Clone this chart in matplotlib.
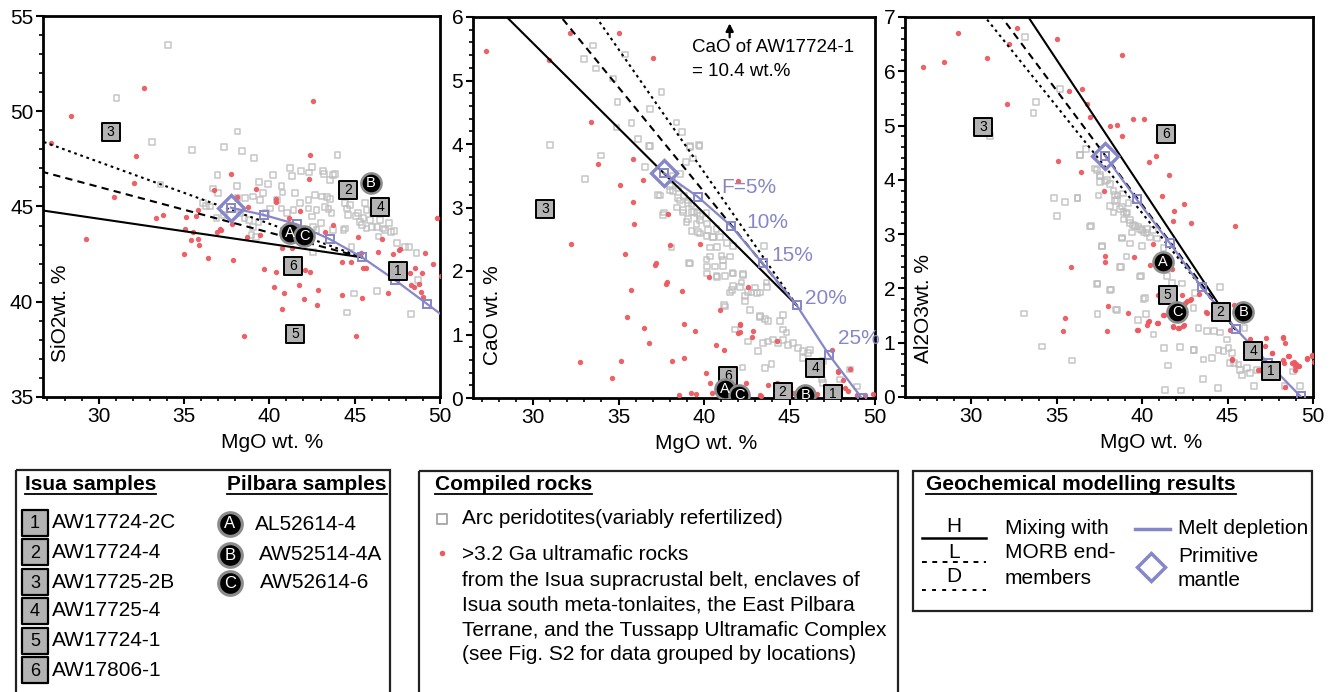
import matplotlib
matplotlib.use('Agg')
import matplotlib.pyplot as plt
from matplotlib.ticker import MultipleLocator
from matplotlib.patches import Rectangle

plt.rcParams['font.family'] = ['Liberation Sans', 'DejaVu Sans']

# ---------------------------------------------------------------- data
mgo_ticks = [30, 35, 40, 45, 50]

# melt depletion model, F = 0 (primitive mantle), 5, 10, 15, 20, 25, 30 %
melt_mgo_si = [37.75, 39.70, 41.60, 43.55, 45.44, 47.36, 49.25, 50.30]
melt_sio2 = [44.94, 44.55, 44.07, 43.28, 42.33, 41.14, 39.88, 39.18]
melt_mgo_ca = [37.68, 39.63, 41.58, 43.43, 45.42, 47.31, 49.22]
melt_cao = [3.54, 3.17, 2.71, 2.12, 1.46, 0.68, 0.00]
melt_mgo_al = [37.84, 39.69, 41.64, 43.49, 45.50, 47.39, 49.28]
melt_al2o3 = [4.44, 3.64, 2.83, 2.02, 1.25, 0.62, 0.01]
melt_labels = ['F=5%', '10%', '15%', '20%', '25%']
melt_label_mgo = [41.03, 42.50, 43.96, 45.90, 47.82]
melt_label_cao = [3.31, 2.76, 2.25, 1.57, 0.94]

# mixing of the 20 % residue with MORB end-members (H, L, D)
mixH_si_mgo = [45.44, 26.50]; mixH_sio2 = [42.33, 44.82]
mixL_si_mgo = [45.44, 26.50]; mixL_sio2 = [42.33, 46.87]
mixD_si_mgo = [45.44, 26.50]; mixD_sio2 = [42.33, 48.48]
mixH_ca_mgo = [45.42, 28.46]; mixH_cao = [1.46, 6.0]
mixL_ca_mgo = [45.42, 31.64]; mixL_cao = [1.46, 6.0]
mixD_ca_mgo = [45.42, 33.69]; mixD_cao = [1.46, 6.0]
mixH_al_mgo = [45.45, 33.35]; mixH_al2o3 = [1.25, 7.0]
mixL_al_mgo = [45.45, 31.79]; mixL_al2o3 = [1.25, 7.0]
mixD_al_mgo = [45.45, 30.82]; mixD_al2o3 = [1.25, 7.0]

# Isua samples
isua_labels = ['1', '2', '3', '4', '5', '6']
isua_names = ['AW17724-2C', 'AW17724-4', 'AW17725-2B', 'AW17725-4', 'AW17724-1', 'AW17806-1']
isua_mgo = [47.55, 44.60, 30.70, 46.50, 41.50, 41.40]
isua_sio2 = [41.63, 45.87, 48.89, 44.99, 38.29, 41.89]
isua_cao = [0.07, 0.09, 2.97, 0.48, 10.4, 0.34]
isua_al2o3 = [0.48, 1.57, 4.98, 0.85, 1.88, 4.84]

# Pilbara samples
pil_labels = ['A', 'B', 'C']
pil_names = ['AL52614-4', 'AW52514-4A', 'AW52614-6']
pil_mgo = [41.20, 45.93, 42.05]
pil_sio2 = [43.63, 46.22, 43.45]
pil_cao = [0.14, 0.05, 0.05]
pil_al2o3 = [2.49, 1.56, 1.56]

# Arc peridotites (MgO, SiO2)
arc_sio2_pts = [
    (34.08, 53.48), (31.05, 50.71), (33.14, 48.40), (38.13, 48.93), (35.45, 47.97), (37.34, 48.11),
    (38.42, 47.91), (39.12, 47.56), (44.00, 47.70), (33.63, 46.16), (36.97, 46.65), (38.09, 46.08),
    (39.38, 46.30), (39.94, 46.18), (40.23, 46.65), (40.72, 46.08), (41.21, 47.04), (41.31, 46.62),
    (41.86, 46.88), (42.34, 46.78), (42.52, 47.09), (43.13, 46.88), (43.20, 46.69), (43.71, 46.65),
    (43.55, 46.39), (41.50, 45.69), (40.78, 45.73), (40.43, 45.34), (39.65, 45.69), (39.45, 45.34),
    (39.06, 45.52), (38.57, 45.43), (38.13, 45.43), (37.01, 45.69), (36.72, 45.95), (36.13, 45.20),
    (36.29, 45.03), (36.52, 45.00), (36.91, 44.38), (37.34, 44.55), (38.28, 44.64), (38.54, 44.38),
    (38.81, 44.29), (39.06, 43.94), (39.36, 44.20), (38.96, 43.50), (39.22, 43.38), (39.80, 44.64),
    (40.04, 44.90), (40.72, 44.90), (41.02, 44.64), (41.41, 44.82), (41.80, 45.17), (42.29, 44.90),
    (42.48, 44.47), (42.77, 44.82), (43.01, 44.12), (42.58, 43.94), (43.26, 44.99), (43.36, 45.48),
    (43.55, 45.38), (43.07, 45.52), (42.68, 45.60), (42.29, 45.34), (43.46, 44.85), (43.65, 44.64),
    (42.77, 43.77), (42.58, 42.63), (43.75, 43.77), (44.43, 45.17), (44.53, 44.90), (44.63, 44.55),
    (44.73, 45.08), (44.43, 43.85), (44.34, 43.77), (44.82, 42.89), (45.08, 44.50), (45.21, 44.64),
    (45.31, 44.20), (45.41, 44.03), (45.51, 44.38), (45.70, 43.85), (45.90, 44.29), (45.70, 44.82),
    (45.61, 45.17), (46.00, 43.94), (46.09, 44.64), (46.29, 43.94), (46.39, 43.42), (46.48, 44.29),
    (46.68, 43.85), (46.78, 43.77), (47.03, 44.15), (47.13, 43.68), (47.30, 43.73), (47.46, 43.10),
    (47.95, 42.89), (48.20, 42.89), (44.96, 40.44), (44.57, 39.43), (46.29, 40.58), (48.28, 39.36),
    (48.63, 42.54), (48.72, 41.14), (43.85, 46.71),
]

# >3.2 Ga ultramafic rocks (MgO, SiO2)
ult_sio2_pts = [
    (27.19, 48.32), (28.38, 49.77), (32.68, 51.20), (29.26, 43.28), (30.88, 45.52), (32.19, 47.67),
    (32.07, 46.22), (33.34, 44.38), (33.77, 44.55), (34.98, 42.51), (35.08, 43.80), (35.12, 44.43),
    (35.39, 43.24), (35.53, 43.64), (35.84, 43.31), (35.88, 42.98), (35.82, 44.82), (35.68, 44.50),
    (36.43, 42.28), (36.78, 45.87), (36.95, 43.64), (37.11, 43.80), (37.19, 43.77), (37.77, 46.71),
    (37.89, 42.19), (37.79, 44.08), (38.12, 45.52), (38.77, 44.99), (38.67, 43.42), (39.20, 45.92),
    (39.45, 43.50), (39.71, 41.74), (38.52, 38.22), (40.29, 40.76), (40.41, 41.56), (40.88, 40.44),
    (40.72, 39.60), (40.76, 42.80), (40.39, 45.39), (40.37, 45.25), (41.13, 44.38), (41.33, 42.80),
    (41.74, 40.88), (42.05, 40.14), (41.80, 44.76), (42.09, 41.67), (42.38, 41.58), (42.40, 47.69),
    (42.56, 50.56), (42.34, 46.43), (42.77, 39.83), (42.87, 40.62), (43.26, 43.68), (43.75, 44.03),
    (44.24, 42.10), (44.26, 40.35), (44.79, 42.07), (45.08, 38.20), (45.21, 43.38), (45.41, 40.21),
    (45.35, 42.54), (45.51, 41.75), (45.64, 41.75), (46.39, 42.63), (46.62, 43.28), (46.93, 40.48),
    (47.27, 42.51), (47.60, 42.72), (47.66, 42.75), (48.24, 41.49), (48.54, 41.75), (48.30, 40.86),
    (48.50, 40.79), (48.79, 40.93), (48.93, 41.49), (48.89, 40.53), (48.98, 40.27), (49.12, 42.54),
    (49.57, 41.96), (49.84, 44.38), (50.04, 41.35),
]

# Arc peridotites (MgO, CaO)
arc_cao_pts = [
    (33.51, 5.55), (35.37, 5.41), (32.99, 5.34), (33.67, 5.19), (34.68, 5.03), (34.94, 4.66),
    (37.51, 4.82), (36.83, 4.55), (36.15, 4.08), (35.76, 4.33), (34.88, 4.26), (33.96, 3.82),
    (33.02, 3.45), (30.98, 3.98), (36.77, 3.97), (38.39, 4.34), (38.72, 4.19), (39.17, 3.97),
    (39.71, 3.98), (39.37, 3.77), (38.94, 3.72), (38.59, 3.53), (38.16, 3.50), (37.41, 3.19),
    (38.00, 3.34), (38.20, 3.26), (38.49, 3.30), (38.84, 3.18), (39.07, 3.11), (39.27, 3.05),
    (38.59, 3.11), (38.43, 3.00), (38.78, 2.92), (39.07, 2.82), (39.40, 2.93), (39.76, 2.87),
    (40.15, 2.91), (39.56, 2.74), (39.27, 2.63), (38.98, 2.77), (37.65, 2.92), (38.10, 2.37),
    (39.13, 2.13), (39.66, 2.61), (40.15, 2.55), (40.54, 2.53), (40.73, 2.66), (40.34, 2.37),
    (40.15, 2.18), (40.73, 1.92), (41.22, 1.92), (41.12, 2.08), (41.02, 2.24), (41.67, 1.97),
    (41.71, 2.39), (42.29, 1.95), (42.20, 1.82), (41.51, 1.66), (41.71, 1.76), (42.39, 1.61),
    (42.78, 1.66), (42.98, 1.74), (43.27, 1.66), (42.68, 1.39), (42.39, 1.53), (41.16, 1.46),
    (41.80, 1.08), (42.59, 0.89), (43.17, 0.74), (43.27, 1.29), (43.56, 1.24), (43.76, 1.21),
    (43.46, 0.87), (43.76, 0.89), (44.05, 0.92), (44.34, 0.87), (44.63, 0.91), (44.93, 0.84),
    (45.22, 0.87), (45.51, 0.79), (45.80, 0.74), (46.10, 0.71), (44.44, 1.21), (44.63, 1.08),
    (43.95, 0.53), (43.56, 0.47), (46.20, 0.76), (46.98, 0.58), (46.88, 0.29), (48.54, 0.45),
    (47.95, 0.29), (48.93, 0.18), (42.25, 0.48), (43.66, 1.82), (44.83, 1.03), (45.80, 0.63),
    (46.98, 0.24), (36.84, 3.97), (39.18, 3.95), (39.73, 3.97), (36.55, 3.64), (37.33, 3.20),
    (38.01, 3.28), (38.50, 3.15), (38.79, 2.96), (39.08, 3.07), (39.28, 2.93), (39.57, 2.91),
    (39.77, 2.80), (40.16, 2.75), (40.25, 2.65), (40.54, 2.54), (40.94, 2.54), (40.74, 2.38),
    (41.33, 2.44), (41.52, 2.23), (41.13, 2.17), (40.35, 2.23), (40.16, 2.07), (39.18, 2.12),
    (40.64, 2.07), (40.16, 1.96), (40.74, 1.91), (41.71, 1.96), (42.30, 1.94), (42.11, 1.75),
    (42.59, 1.67), (43.08, 1.65), (43.67, 1.75), (41.62, 1.70), (41.23, 1.44), (43.51, 2.39),
    (37.62, 2.88), (43.27, 1.28), (44.64, 1.31), (39.77, 2.59),
]

# >3.2 Ga ultramafic rocks (MgO, CaO)
ult_cao_pts = [
    (27.23, 5.47), (30.92, 5.33), (32.15, 5.75), (35.01, 5.75), (36.99, 5.36), (33.38, 4.34),
    (33.80, 3.69), (35.85, 3.77), (36.44, 3.44), (35.11, 3.36), (35.85, 3.08), (35.89, 2.74),
    (37.90, 2.89), (32.24, 2.42), (35.40, 2.27), (37.99, 2.41), (39.76, 2.42), (37.12, 2.09),
    (37.22, 2.12), (40.30, 1.91), (35.72, 1.70), (37.77, 1.79), (37.85, 1.82), (38.72, 1.68),
    (42.00, 3.42), (42.59, 1.75), (35.50, 1.28), (40.93, 1.39), (42.10, 1.17), (41.96, 1.02),
    (42.10, 1.04), (42.88, 1.06), (42.78, 0.96), (39.46, 1.05), (38.84, 1.16), (36.48, 1.11),
    (36.79, 0.87), (40.73, 0.84), (41.16, 0.76), (32.73, 0.57), (35.17, 0.59), (38.14, 0.59),
    (38.82, 0.63), (34.59, 0.32), (40.11, 0.39), (44.28, 0.89), (46.88, 0.49), (47.85, 0.42),
    (48.15, 0.29), (48.24, 0.16), (48.44, 0.11), (48.93, 0.05), (49.41, 0.05), (49.90, 0.07),
    (47.17, 0.11), (46.49, 0.05), (45.22, 0.08), (45.02, 0.18), (43.76, 0.21), (44.28, 0.24),
    (43.27, 0.04), (42.45, 0.24), (40.34, 0.24), (40.44, 0.08), (39.56, 0.06), (39.21, 0.08),
    (38.55, 0.04), (47.46, 0.76), (46.29, 0.37), (42.11, 1.15), (47.86, 0.41), (48.54, 0.45),
    (43.32, 0.03), (46.59, 0.07),
]

# Arc peridotites (MgO, Al2O3)
arc_al2o3_pts = [
    (33.16, 6.63), (33.80, 5.43), (33.65, 5.23), (35.21, 5.68), (31.11, 4.81), (36.38, 4.46),
    (36.71, 4.57), (37.26, 4.21), (37.55, 4.09), (37.55, 3.96), (37.94, 4.00), (38.14, 3.92),
    (38.33, 3.80), (38.57, 3.71), (38.88, 3.75), (39.21, 3.58), (38.41, 3.61), (38.14, 3.52),
    (38.33, 3.40), (38.72, 3.46), (39.11, 3.40), (38.92, 3.27), (39.31, 3.21), (39.60, 3.15),
    (39.89, 3.09), (40.09, 3.03), (40.28, 3.09), (40.48, 2.94), (38.82, 2.94), (39.41, 3.03),
    (39.99, 2.78), (40.87, 2.92), (41.26, 2.75), (37.45, 3.71), (37.02, 3.15), (36.22, 3.67),
    (35.50, 3.59), (34.86, 3.66), (35.01, 3.34), (37.65, 2.78), (38.76, 2.39), (39.95, 2.23),
    (37.40, 2.09), (38.18, 1.98), (38.49, 1.61), (40.09, 1.81), (40.22, 1.53), (41.45, 2.23),
    (41.75, 2.10), (42.33, 2.09), (41.84, 1.89), (43.01, 1.64), (43.11, 1.92), (44.58, 2.03),
    (43.31, 1.27), (43.80, 1.21), (44.19, 1.21), (44.58, 1.19), (43.05, 0.87), (43.60, 0.69),
    (44.09, 0.72), (44.48, 0.87), (44.77, 0.85), (45.06, 0.90), (45.26, 0.81), (45.36, 0.63),
    (45.65, 0.60), (45.75, 0.50), (45.84, 0.41), (46.14, 0.53), (46.33, 0.44), (46.72, 0.50),
    (44.97, 1.06), (45.16, 0.63), (46.00, 1.27), (40.67, 1.15), (41.30, 0.90), (42.23, 0.92),
    (43.01, 0.87), (41.51, 0.58), (43.56, 0.33), (44.44, 0.17), (41.36, 0.13), (42.29, 0.12),
    (35.89, 0.67), (34.14, 0.93), (33.10, 1.54), (37.40, 1.53), (46.53, 0.20), (48.34, 0.20),
    (49.22, 0.20), (48.81, 0.47), (36.37, 4.46), (37.35, 4.18), (37.54, 4.06), (37.84, 3.97),
    (38.42, 3.72), (38.52, 3.63), (38.81, 3.51), (38.91, 3.41), (39.10, 3.38), (39.30, 3.26),
    (39.49, 3.17), (39.78, 3.14), (39.98, 3.08), (40.27, 3.02), (40.66, 3.08), (39.30, 2.83),
    (38.81, 2.92), (37.64, 2.77), (36.96, 3.14), (36.22, 3.66), (39.10, 2.59), (38.71, 2.40),
    (39.88, 2.22), (37.35, 2.08), (38.13, 1.97), (40.18, 1.82), (38.52, 1.60), (39.78, 1.42),
]

# >3.2 Ga ultramafic rocks (MgO, Al2O3)
ult_al2o3_pts = [
    (27.21, 6.08), (28.44, 6.17), (29.26, 6.70), (30.92, 6.25), (32.09, 5.39), (32.24, 6.50),
    (32.71, 6.80), (35.01, 6.59), (35.74, 5.63), (36.48, 5.68), (36.81, 5.39), (36.97, 5.15),
    (35.11, 4.35), (36.44, 4.14), (38.14, 4.99), (38.53, 5.01), (38.82, 6.30), (38.82, 4.81),
    (39.46, 5.12), (40.09, 5.12), (40.42, 4.32), (40.79, 4.44), (41.59, 4.09), (41.16, 3.71),
    (41.90, 3.43), (42.43, 3.55), (41.80, 3.25), (42.88, 3.21), (45.41, 3.15), (37.75, 3.80),
    (37.84, 2.60), (37.84, 2.49), (35.85, 2.39), (35.50, 1.45), (35.40, 1.21), (38.04, 1.67),
    (37.94, 1.21), (39.21, 1.55), (39.54, 2.58), (39.76, 1.24), (40.38, 1.40), (40.28, 1.32),
    (40.91, 1.37), (41.30, 1.51), (40.67, 2.81), (40.47, 2.44), (41.76, 2.36), (42.33, 1.87),
    (42.62, 1.77), (42.88, 1.81), (41.80, 1.29), (42.14, 1.27), (42.43, 1.32), (43.31, 1.89),
    (43.76, 1.56), (45.16, 1.24), (45.39, 1.70), (45.26, 0.70), (46.33, 1.06), (47.27, 1.08),
    (47.21, 0.94), (47.60, 0.81), (46.92, 0.49), (48.24, 1.10), (48.34, 1.00), (48.58, 0.76),
    (48.28, 0.63), (48.87, 0.64), (49.02, 0.60), (49.16, 0.57), (48.96, 0.49), (49.65, 0.71),
    (49.94, 0.76), (50.04, 0.64), (48.38, 0.18), (43.78, 1.55), (42.81, 1.79), (42.51, 1.73),
    (41.93, 1.71), (40.95, 1.88), (41.25, 1.51), (40.37, 1.39), (40.90, 1.36), (39.73, 1.24),
    (41.83, 1.30), (42.12, 1.27), (42.42, 1.30), (45.25, 0.68), (46.42, 0.90), (47.58, 0.81),
    (48.27, 1.08), (48.56, 0.76), (48.75, 0.62), (48.95, 0.57), (49.14, 0.57), (49.63, 0.70),
    (49.92, 0.78), (48.27, 0.68), (46.80, 0.50),
]

# ---------------------------------------------------------------- style
BLUE = '#8686c9'
RED = '#eb5a60'
ARC_EDGE = '#bdbdbd'
ISUA_FACE = '#b3b3b3'
MIX_STYLES = ['-', (0, (3.5, 2.5)), (0, (1.3, 1.8))]

W, H = 1334, 692
fig = plt.figure(figsize=(W / 100, H / 100), dpi=100)


def axes_px(l, t, r, b):
    return fig.add_axes([l / W, 1 - b / H, (r - l) / W, (b - t) / H])


def style_axes(ax, xlim, ylim, ymaj, ymin):
    ax.set_xlim(*xlim)
    ax.set_ylim(*ylim)
    ax.set_xticks(mgo_ticks)
    ax.xaxis.set_minor_locator(MultipleLocator(1))
    ax.yaxis.set_major_locator(MultipleLocator(ymaj))
    ax.yaxis.set_minor_locator(MultipleLocator(ymin))
    ax.tick_params(which='major', direction='out', length=5, width=1.5, labelsize=15, pad=2)
    ax.tick_params(which='minor', direction='out', length=3, width=1.2)
    for s in ax.spines.values():
        s.set_linewidth(2.0)


def draw_panel(ax, arc_pts, ult_pts, melt_x, melt_y, mixes, isua_y, pil_y, ytop):
    ax_x, ax_y = zip(*arc_pts)
    ax.scatter(ax_x, ax_y, marker='s', s=17, facecolors='none', edgecolors=ARC_EDGE,
               linewidths=1.1, alpha=0.85, zorder=2)
    ux, uy = zip(*ult_pts)
    ax.scatter(ux, uy, s=15, color=RED, linewidths=0, alpha=0.95, zorder=3)
    for (mx, my), ls in zip(mixes, MIX_STYLES):
        ax.plot(mx, my, color='black', lw=1.5, ls=ls, zorder=4)
    ax.plot(melt_x, melt_y, color=BLUE, lw=1.6, zorder=5)
    ax.plot(melt_x[:7], melt_y[:7], ls='none', marker='s', ms=6, mfc='none',
            mec=BLUE, mew=1.4, zorder=5)
    ax.plot(melt_x[0], melt_y[0], marker='D', ms=13, mfc='none', mec=BLUE, mew=2.4, zorder=6)
    for lab, x, y in zip(isua_labels, isua_mgo, isua_y):
        if y > ytop:
            continue
        ax.scatter([x], [y], marker='s', s=175, facecolor=ISUA_FACE, edgecolor='black',
                   linewidths=1.4, zorder=7)
        ax.text(x, y, lab, ha='center', va='center', fontsize=10, zorder=8)
    for lab, x, y in zip(pil_labels, pil_mgo, pil_y):
        ax.scatter([x], [y], marker='o', s=210, facecolor='black', edgecolor='#8c8c8c',
                   linewidths=1.8, zorder=9)
        ax.text(x, y, lab, ha='center', va='center', fontsize=10.5, color='white', zorder=10)


ax1 = axes_px(43, 16, 440, 397)
ax2 = axes_px(473, 17, 875, 398)
ax3 = axes_px(905, 17, 1313, 397)

style_axes(ax1, (26.74, 50), (35, 55), 5, 1)
style_axes(ax2, (26.49, 50), (0, 6), 1, 0.2)
style_axes(ax3, (26.14, 50), (0, 7), 1, 0.2)

draw_panel(ax1, arc_sio2_pts, ult_sio2_pts, melt_mgo_si, melt_sio2,
           [(mixH_si_mgo, mixH_sio2), (mixL_si_mgo, mixL_sio2), (mixD_si_mgo, mixD_sio2)],
           isua_sio2, pil_sio2, 55)
draw_panel(ax2, arc_cao_pts, ult_cao_pts, melt_mgo_ca, melt_cao,
           [(mixH_ca_mgo, mixH_cao), (mixL_ca_mgo, mixL_cao), (mixD_ca_mgo, mixD_cao)],
           isua_cao, pil_cao, 6)
draw_panel(ax3, arc_al2o3_pts, ult_al2o3_pts, melt_mgo_al, melt_al2o3,
           [(mixH_al_mgo, mixH_al2o3), (mixL_al_mgo, mixL_al2o3), (mixD_al_mgo, mixD_al2o3)],
           isua_al2o3, pil_al2o3, 7)

# melt-fraction labels
for lab, x, y in zip(melt_labels, melt_label_mgo, melt_label_cao):
    ax2.text(x, y, lab, color=BLUE, fontsize=15, ha='left', va='center', zorder=11)

# off-scale note for AW17724-1
ax2.annotate('', xy=(isua_mgo[4], 5.90), xytext=(isua_mgo[4], 5.68),
             arrowprops=dict(arrowstyle='-|>', color='black', lw=1.6, mutation_scale=11,
                             shrinkA=0, shrinkB=0))
ax2.text(0.545, 0.919, 'CaO of AW17724-1', transform=ax2.transAxes, fontsize=13.5,
         ha='left', va='center')
ax2.text(0.545, 0.856, '= 10.4 wt.%', transform=ax2.transAxes, fontsize=13.5,
         ha='left', va='center')

# axis labels (placed as in the original figure)
for ax, xl, ylab, yx, yb in [(ax1, 0.577, 'SiO2wt. %', 0.043, 0.092),
                             (ax2, 0.580, 'CaO wt. %', 0.049, 0.087),
                             (ax3, 0.603, 'Al2O3wt. %', 0.045, 0.089)]:
    ax.text(xl, -0.12, 'MgO wt. %', transform=ax.transAxes, ha='center', va='center', fontsize=15)
    ax.text(yx, yb, ylab, transform=ax.transAxes, rotation=90, ha='center', va='bottom',
            fontsize=15, zorder=12)

# ---------------------------------------------------------------- legend boxes (pixel overlay)
lg = fig.add_axes([0, 0, 1, 1], zorder=-1)
lg.set_xlim(0, W)
lg.set_ylim(H, 0)
lg.axis('off')

for (l, t, r, b) in [(16, 470, 390, 720), (419, 471, 898, 720), (913, 471, 1312, 611)]:
    lg.add_patch(Rectangle((l, t), r - l, b - t, fill=False, lw=1.6, edgecolor='#222222',
                           clip_on=False))

titles = []
titles.append(lg.text(25, 490, 'Isua samples', fontsize=15, fontweight='bold', va='baseline'))
titles.append(lg.text(227, 490, 'Pilbara samples', fontsize=15, fontweight='bold', va='baseline'))
titles.append(lg.text(435, 490, 'Compiled rocks', fontsize=15, fontweight='bold', va='baseline'))
titles.append(lg.text(926, 490, 'Geochemical modelling results', fontsize=15, fontweight='bold',
                      va='baseline'))

isua_leg_y = [523, 552, 582, 611, 641, 670]
for lab, name, y in zip(isua_labels, isua_names, isua_leg_y):
    lg.scatter([35], [y], marker='s', s=330, facecolor=ISUA_FACE, edgecolor='black', linewidths=1.6)
    lg.text(35, y + 1, lab, fontsize=13, ha='center', va='center')
    lg.text(52, y, name, fontsize=15, ha='left', va='center')

pil_leg_y = [524, 555, 583]
pil_leg_tx = [255, 259, 260]
for lab, name, y, tx in zip(pil_labels, pil_names, pil_leg_y, pil_leg_tx):
    lg.scatter([230], [y], marker='o', s=290, facecolor='black', edgecolor='#8c8c8c', linewidths=2.2)
    lg.text(230, y, lab, fontsize=12, ha='center', va='center', color='white')
    lg.text(tx, y, name, fontsize=15, ha='left', va='center')

lg.scatter([442], [519], marker='s', s=55, facecolor='white', edgecolor='#a5a5a5', linewidths=1.3)
lg.text(462, 519, 'Arc peridotites(variably refertilized)', fontsize=15, va='center')
lg.scatter([442], [553], s=16, color=RED, linewidths=0)
ult_lines = ['>3.2 Ga ultramafic rocks',
             'from the Isua supracrustal belt, enclaves of',
             'Isua south meta-tonlaites, the East Pilbara',
             'Terrane, and the Tussapp Ultramafic Complex',
             '(see Fig. S2 for data grouped by locations)']
for i, s in enumerate(ult_lines):
    lg.text(462, 555 + 25 * i, s, fontsize=15, va='center')

for lab, y_t, y_l, ls in [('H', 527, 538, '-'), ('L', 552, 562, (0, (2.5, 2.8))),
                          ('D', 577, 590, (0, (2.0, 3.2)))]:
    lg.text(954, y_t, lab, fontsize=15, ha='center', va='center')
    lg.plot([922, 986], [y_l, y_l], color='black', lw=1.8 if ls == '-' else 1.4, ls=ls)
for i, s in enumerate(['Mixing with', 'MORB end-', 'members']):
    lg.text(1005, 528 + 25 * i, s, fontsize=15, va='center')
lg.plot([1135, 1170], [529, 529], color=BLUE, lw=2.5)
lg.text(1178, 528, 'Melt depletion', fontsize=15, va='center')
lg.plot([1151], [567], marker='D', ms=14, mfc='none', mec=BLUE, mew=2.5)
lg.text(1178, 556, 'Primitive', fontsize=15, va='center')
lg.text(1178, 581, 'mantle', fontsize=15, va='center')

# underline the bold titles
fig.canvas.draw()
for t in titles:
    bb = t.get_window_extent()
    lg.plot([bb.x0, bb.x1], [493.5, 493.5], color='black', lw=1.3)

fig.savefig('out.png', dpi=100)
